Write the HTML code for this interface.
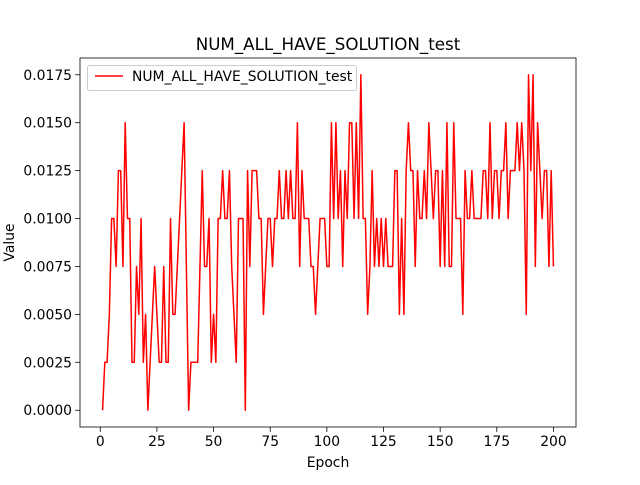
<!DOCTYPE html>
<html><head><meta charset="utf-8"><style>
body{margin:0;background:#fff;}
svg text{font-family:"DejaVu Sans","Liberation Sans",sans-serif;fill:#000;}
</style></head><body>
<svg id="chart" width="640" height="480" viewBox="0 0 640 480" xmlns="http://www.w3.org/2000/svg">
<rect width="640" height="480" fill="#fff"/>
<text x="328" y="50" font-size="16.7" text-anchor="middle">NUM_ALL_HAVE_SOLUTION_test</text>
<g id="axes"></g>
<text x="328" y="467" font-size="13.9" text-anchor="middle">Epoch</text>
<text x="0" y="0" font-size="13.9" text-anchor="middle" transform="translate(14,242.5) rotate(-90)">Value</text>
</svg>
<script>
const values = [0,0.0025,0.0025,0.005,0.01,0.01,0.0075,0.0125,0.0125,0.0075,
0.015,0.01,0.01,0.0025,0.0025,0.0075,0.005,0.01,0.0025,0.005,
0,0.0025,0.005,0.0075,0.005,0.0025,0.0025,0.0075,0.0025,0.0025,
0.01,0.005,0.005,0.0075,0.01,0.0125,0.015,0.0075,0,0.0025,
0.0025,0.0025,0.0025,0.0075,0.0125,0.0075,0.0075,0.01,0.0025,0.005,
0.0025,0.01,0.01,0.0125,0.01,0.01,0.0125,0.0075,0.005,0.0025,
0.01,0.01,0.01,0,0.0125,0.0075,0.0125,0.0125,0.0125,0.01,
0.01,0.005,0.0075,0.01,0.01,0.0075,0.01,0.01,0.0125,0.01,
0.01,0.0125,0.01,0.0125,0.01,0.01,0.015,0.0075,0.0125,0.01,
0.01,0.01,0.0075,0.0075,0.005,0.0075,0.01,0.01,0.01,0.0075,
0.0075,0.015,0.01,0.015,0.01,0.0125,0.0075,0.0125,0.01,0.015,
0.015,0.01,0.015,0.01,0.0175,0.01,0.01,0.005,0.0075,0.0125,
0.0075,0.01,0.0075,0.01,0.0075,0.01,0.0075,0.0075,0.0075,0.0125,
0.0125,0.005,0.01,0.005,0.0125,0.015,0.0125,0.0125,0.0075,0.0125,
0.01,0.01,0.0125,0.01,0.015,0.0125,0.01,0.0125,0.0125,0.0075,
0.0125,0.0075,0.015,0.0075,0.0075,0.015,0.01,0.01,0.01,0.005,
0.0125,0.01,0.01,0.0125,0.01,0.01,0.01,0.01,0.0125,0.0125,
0.01,0.015,0.01,0.0125,0.0125,0.01,0.0125,0.0125,0.015,0.01,
0.0125,0.0125,0.0125,0.015,0.0125,0.015,0.0125,0.005,0.0175,0.0125,
0.0175,0.0075,0.015,0.0125,0.01,0.0125,0.0125,0.0075,0.0125,0.0075];
const xTicks = [0,25,50,75,100,125,150,175,200];
const yTicks = [0,0.0025,0.005,0.0075,0.01,0.0125,0.015,0.0175];
const yTickLabels = ["0.0000","0.0025","0.0050","0.0075","0.0100","0.0125","0.0150","0.0175"];
const seriesName = "NUM_ALL_HAVE_SOLUTION_test";

const NS="http://www.w3.org/2000/svg";
const L=80,R=576,T=58,B=427;
const n=values.length;
const xmin=1-(n-1)*0.05, xmax=n+(n-1)*0.05;
const vmax=Math.max(...values), vmin=Math.min(...values);
const ymin=vmin-(vmax-vmin)*0.05, ymax=vmax+(vmax-vmin)*0.05;
const X=v=>L+(v-xmin)/(xmax-xmin)*(R-L);
const Y=v=>B-(v-ymin)/(ymax-ymin)*(B-T);
const g=document.getElementById('axes');
function mk(t,a){const e=document.createElementNS(NS,t);for(const k in a)e.setAttribute(k,a[k]);g.appendChild(e);return e;}

xTicks.forEach((t,i)=>{
  const tk=mk('line',{x1:X(t),x2:X(t),y1:B,y2:B+4.9,stroke:'#000','stroke-width':0.8});
  
  
  const tx=mk('text',{x:X(t),y:B+19,'font-size':13.9,'text-anchor':'middle'});
  tx.textContent=String(t);
  
  
});
yTicks.forEach((t,i)=>{
  const tk=mk('line',{x1:L-4.9,x2:L,y1:Y(t),y2:Y(t),stroke:'#000','stroke-width':0.8});
  
  
  const tx=mk('text',{x:L-8,y:Y(t)+5,'font-size':13.9,'text-anchor':'end'});
  tx.textContent=yTickLabels[i];
  
  
});

const pts=values.map((v,i)=>X(i+1).toFixed(2)+','+Y(v).toFixed(2)).join(' ');
const line=mk('polyline',{points:pts,fill:'none',stroke:'#ff0000','stroke-width':1.5,'stroke-linejoin':'round'});



const frame=mk('rect',{x:L,y:T,width:R-L,height:B-T,fill:'none',stroke:'#000','stroke-width':0.8});



const lg=mk('rect',{x:87.5,y:65.5,width:269,height:25,rx:2,fill:'#fff','fill-opacity':0.8,stroke:'#ccc','stroke-width':1});


const ll=mk('line',{x1:95,x2:123,y1:76,y2:76,stroke:'#ff0000','stroke-width':1.5});


const lt=mk('text',{x:132,y:81,'font-size':13.9});
lt.textContent=seriesName;


</script>
</body></html>
